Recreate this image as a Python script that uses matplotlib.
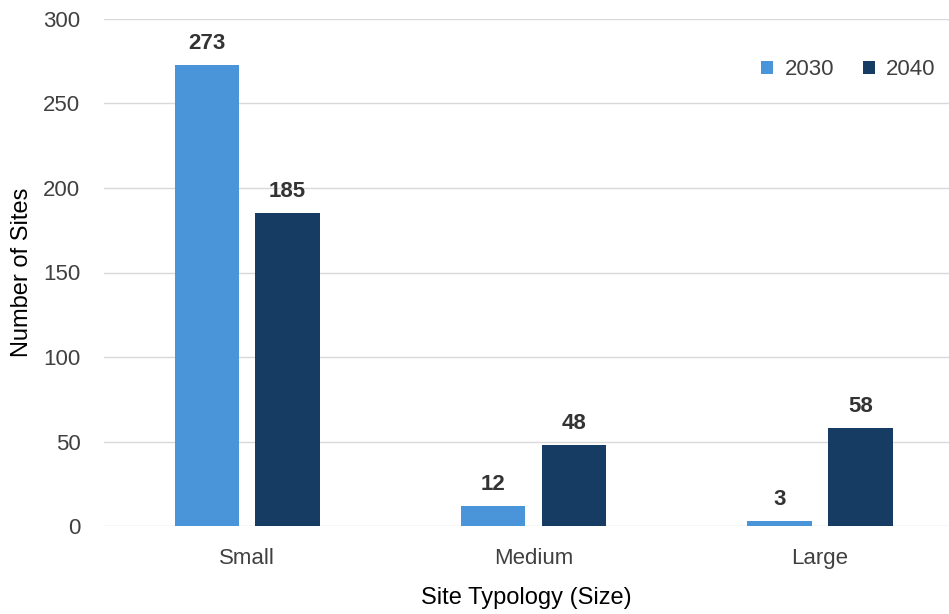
import matplotlib
matplotlib.use("Agg")
import matplotlib.pyplot as plt
import numpy as np

categories = ["Small", "Medium", "Large"]
years = ["2030", "2040"]
sites_2030 = [273, 12, 3]
sites_2040 = [185, 48, 58]
colors = ["#4a94da", "#173c63"]

plt.rcParams["font.family"] = ["Liberation Sans", "DejaVu Sans"]

fig = plt.figure(figsize=(9.49, 6.14), dpi=100)
ax = fig.add_axes([104 / 949, 88 / 614, 1 - 104 / 949, 507 / 614])

x = np.arange(len(categories))
w = 0.225
off = 0.141
for vals, dx, c, lab in [(sites_2030, -off, colors[0], years[0]),
                         (sites_2040, off, colors[1], years[1])]:
    bars = ax.bar(x + dx, vals, w, color=c, label=lab, zorder=3)
    for b, v in zip(bars, vals):
        ax.annotate(str(v), (b.get_x() + b.get_width() / 2, v),
                    xytext=(0, 8), textcoords="offset points",
                    ha="center", va="bottom", fontsize=16, fontweight="bold",
                    color="#333333")

ax.set_xlim(-0.5, 2.45)
ax.set_ylim(0, 300)
ax.set_yticks(range(0, 301, 50))
ax.set_xticks(x)
ax.set_xticklabels(categories)
ax.grid(axis="y", color="#d9d9d9", linewidth=1, zorder=0)
for s in ax.spines.values():
    s.set_visible(False)
ax.tick_params(length=0, labelsize=16, colors="#404040")
ax.tick_params(axis="x", pad=16)
ax.tick_params(axis="y", pad=17)
ax.set_ylabel("Number of Sites", fontsize=17, labelpad=7, color="black")
ax.set_xlabel("Site Typology (Size)", fontsize=17, labelpad=13, color="black")
ax.legend(loc="upper right", bbox_to_anchor=(1.008, 0.96), ncol=2, frameon=False,
          fontsize=16, handlelength=0.55, handleheight=0.55, columnspacing=1.3,
          handletextpad=0.5, labelcolor="#404040")

fig.savefig("out.png", dpi=100)
